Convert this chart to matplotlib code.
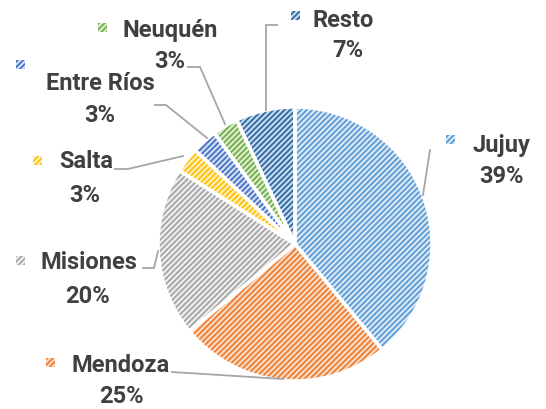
import matplotlib
matplotlib.use("Agg")
import matplotlib.pyplot as plt

categories = ["Jujuy", "Mendoza", "Misiones", "Salta", "Entre Ríos", "Neuquén", "Resto"]
values = [39, 25, 20, 3, 3, 3, 7]
pct_labels = ["39%", "25%", "20%", "3%", "3%", "3%", "7%"]

hatch_colors = ["#5b9bd5", "#ed7d31", "#a5a5a5", "#ffc000", "#4472c4", "#70ad47", "#2e68a3"]
fill_colors = ["#dbe8f6", "#fbdcc6", "#efefef", "#fff0c2", "#d3def2", "#dcedd0", "#c8dbef"]

W, H = 546, 409
plt.rcParams['hatch.linewidth'] = 1.3
fig = plt.figure(figsize=(W / 100, H / 100), dpi=100)
ax = fig.add_axes([0, 0, 1, 1])

def Y(y):
    return H - y

cx, cy, r = 295, 244, 137

wedges, _ = ax.pie(values, startangle=90, counterclock=False, center=(cx, Y(cy)), radius=r,
                   colors=fill_colors, wedgeprops=dict(linewidth=0), frame=True)
for w, hc in zip(wedges, hatch_colors):
    w.set_edgecolor(hc)
    w.set_hatch('//////')
    w.set_linewidth(0)
ax.pie(values, startangle=90, counterclock=False, center=(cx, Y(cy)), radius=r,
       colors=['none'] * len(values), wedgeprops=dict(linewidth=2.5, edgecolor='white'), frame=True)
ax.set_xlim(0, W)
ax.set_ylim(0, H)
ax.axis('off')

# label layout: (marker x, marker y, name center x, name baseline, pct center x, pct baseline)
layout = {
    "Jujuy": (450, 139, 501, 152, 501, 183),
    "Mendoza": (50, 362, 121, 372, 121, 403),
    "Misiones": (20, 260, 89, 269, 88, 303),
    "Salta": (37, 160, 86, 168, 85, 202),
    "Entre Ríos": (20, 64, 100, 90, 100, 122),
    "Neuquén": (102, 27, 170, 37, 170, 68),
    "Resto": (295, 15, 343, 27, 348, 57),
}

leaders = {
    "Jujuy": [(423, 195), (430, 150)],
    "Mendoza": [(172, 372), (283, 379)],
    "Misiones": [(143, 268), (154, 268), (158, 251)],
    "Salta": [(115, 169), (128, 169), (183, 156)],
    "Entre Ríos": [(155, 105), (166, 105), (207, 138)],
    "Neuquén": [(188, 67), (200, 67), (225, 124)],
    "Resto": [(266, 110), (266, 25), (277, 25)],
}

txt = "#404040"
font = dict(family=["Roboto", "DejaVu Sans"], fontweight='bold', fontsize=17, color=txt)
for cat, pct, hc, fc in zip(categories, pct_labels, hatch_colors, fill_colors):
    mx, my, nx, ny, px, py = layout[cat]
    ax.text(nx, Y(ny), cat, ha='center', va='baseline', **font)
    ax.text(px, Y(py), pct, ha='center', va='baseline', **font)
    s = 9
    ax.add_patch(plt.Rectangle((mx - s / 2, Y(my) - s / 2), s, s, facecolor=fc, edgecolor=hc,
                               hatch='//////', linewidth=0))
    pts = leaders[cat]
    ax.plot([p[0] for p in pts], [Y(p[1]) for p in pts], color="#a6a6a6", linewidth=1.3,
            solid_joinstyle='miter')

fig.savefig("out.png", dpi=100)
